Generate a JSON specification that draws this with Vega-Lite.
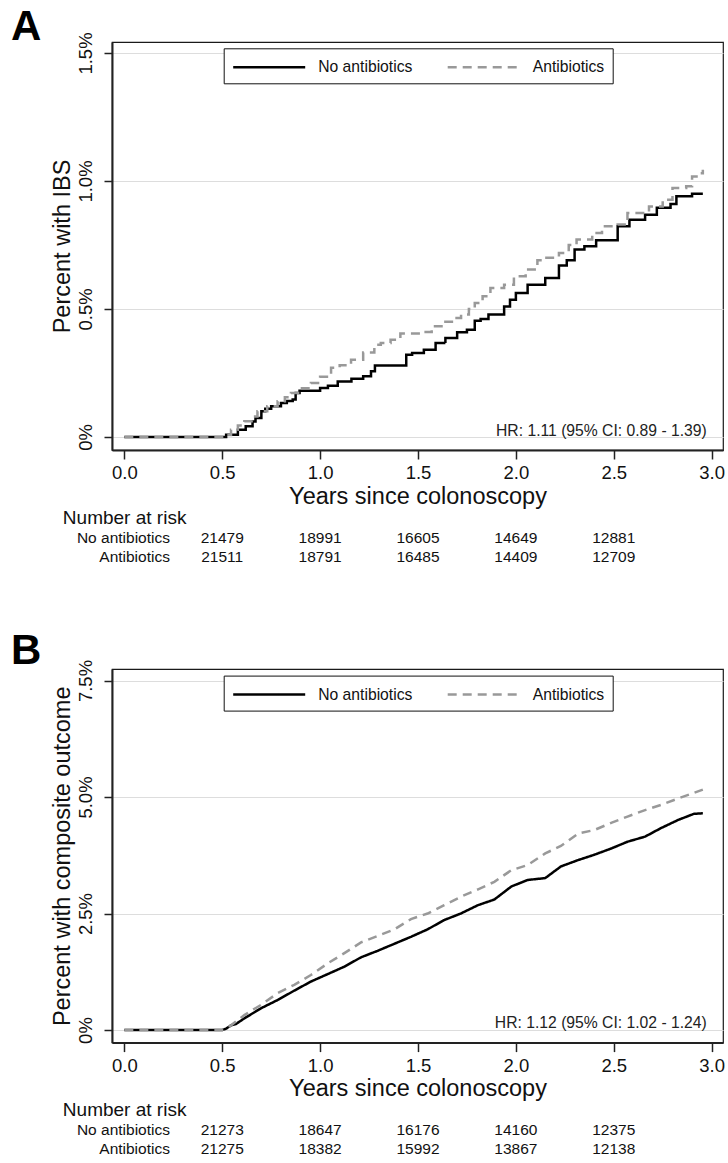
{
  "$schema": "https://vega.github.io/schema/vega-lite/v6.json",
  "padding": {"left": 10, "top": 5, "right": 0, "bottom": 0},
  "bounds": "flush",
  "spacing": 50,
  "config": {
    "font": "Liberation Sans",
    "view": {"stroke": "#1a1a1a", "strokeWidth": 1.2},
    "axis": {"labelColor": "#111111", "titleColor": "#111111", "titleFontWeight": "normal", "domainColor": "#222222", "tickColor": "#222222", "domainWidth": 2, "tickWidth": 1.5, "labelOverlap": false, "labelFlush": false}
  },
  "resolve": {"scale": {"stroke": "independent", "strokeDash": "independent"}},
  "datasets": {
    "ibs": [
      {"group": "No antibiotics", "t": 0, "p": 0},
      {"group": "No antibiotics", "t": 0.5, "p": 0},
      {"group": "No antibiotics", "t": 0.52, "p": 0.009},
      {"group": "No antibiotics", "t": 0.58, "p": 0.028},
      {"group": "No antibiotics", "t": 0.62, "p": 0.042},
      {"group": "No antibiotics", "t": 0.655, "p": 0.06},
      {"group": "No antibiotics", "t": 0.67, "p": 0.074},
      {"group": "No antibiotics", "t": 0.7, "p": 0.1},
      {"group": "No antibiotics", "t": 0.72, "p": 0.11},
      {"group": "No antibiotics", "t": 0.75, "p": 0.12},
      {"group": "No antibiotics", "t": 0.8, "p": 0.133},
      {"group": "No antibiotics", "t": 0.83, "p": 0.14},
      {"group": "No antibiotics", "t": 0.86, "p": 0.146},
      {"group": "No antibiotics", "t": 0.875, "p": 0.172},
      {"group": "No antibiotics", "t": 0.895, "p": 0.18},
      {"group": "No antibiotics", "t": 1.0, "p": 0.191},
      {"group": "No antibiotics", "t": 1.04, "p": 0.2},
      {"group": "No antibiotics", "t": 1.09, "p": 0.217},
      {"group": "No antibiotics", "t": 1.16, "p": 0.227},
      {"group": "No antibiotics", "t": 1.22, "p": 0.237},
      {"group": "No antibiotics", "t": 1.26, "p": 0.257},
      {"group": "No antibiotics", "t": 1.28, "p": 0.279},
      {"group": "No antibiotics", "t": 1.44, "p": 0.321},
      {"group": "No antibiotics", "t": 1.47, "p": 0.328},
      {"group": "No antibiotics", "t": 1.53, "p": 0.341},
      {"group": "No antibiotics", "t": 1.59, "p": 0.367},
      {"group": "No antibiotics", "t": 1.64, "p": 0.387},
      {"group": "No antibiotics", "t": 1.7, "p": 0.409},
      {"group": "No antibiotics", "t": 1.75, "p": 0.419},
      {"group": "No antibiotics", "t": 1.79, "p": 0.454},
      {"group": "No antibiotics", "t": 1.82, "p": 0.461},
      {"group": "No antibiotics", "t": 1.86, "p": 0.478},
      {"group": "No antibiotics", "t": 1.94, "p": 0.51},
      {"group": "No antibiotics", "t": 1.97, "p": 0.536},
      {"group": "No antibiotics", "t": 2.0, "p": 0.562},
      {"group": "No antibiotics", "t": 2.06, "p": 0.595},
      {"group": "No antibiotics", "t": 2.15, "p": 0.621},
      {"group": "No antibiotics", "t": 2.22, "p": 0.67},
      {"group": "No antibiotics", "t": 2.26, "p": 0.69},
      {"group": "No antibiotics", "t": 2.3, "p": 0.732},
      {"group": "No antibiotics", "t": 2.35, "p": 0.745},
      {"group": "No antibiotics", "t": 2.41, "p": 0.768},
      {"group": "No antibiotics", "t": 2.52, "p": 0.823},
      {"group": "No antibiotics", "t": 2.58, "p": 0.849},
      {"group": "No antibiotics", "t": 2.66, "p": 0.868},
      {"group": "No antibiotics", "t": 2.72, "p": 0.895},
      {"group": "No antibiotics", "t": 2.79, "p": 0.91},
      {"group": "No antibiotics", "t": 2.82, "p": 0.94},
      {"group": "No antibiotics", "t": 2.9, "p": 0.95},
      {"group": "No antibiotics", "t": 2.955, "p": 0.95},
      {"group": "Antibiotics", "t": 0, "p": 0},
      {"group": "Antibiotics", "t": 0.5, "p": 0},
      {"group": "Antibiotics", "t": 0.52, "p": 0.008},
      {"group": "Antibiotics", "t": 0.545, "p": 0.028},
      {"group": "Antibiotics", "t": 0.58, "p": 0.045},
      {"group": "Antibiotics", "t": 0.613, "p": 0.061},
      {"group": "Antibiotics", "t": 0.65, "p": 0.08},
      {"group": "Antibiotics", "t": 0.68, "p": 0.1},
      {"group": "Antibiotics", "t": 0.73, "p": 0.12},
      {"group": "Antibiotics", "t": 0.783, "p": 0.139},
      {"group": "Antibiotics", "t": 0.82, "p": 0.155},
      {"group": "Antibiotics", "t": 0.851, "p": 0.172},
      {"group": "Antibiotics", "t": 0.9, "p": 0.19},
      {"group": "Antibiotics", "t": 0.953, "p": 0.211},
      {"group": "Antibiotics", "t": 1.0, "p": 0.235},
      {"group": "Antibiotics", "t": 1.056, "p": 0.27},
      {"group": "Antibiotics", "t": 1.1, "p": 0.28},
      {"group": "Antibiotics", "t": 1.158, "p": 0.302},
      {"group": "Antibiotics", "t": 1.22, "p": 0.33},
      {"group": "Antibiotics", "t": 1.277, "p": 0.36},
      {"group": "Antibiotics", "t": 1.31, "p": 0.367},
      {"group": "Antibiotics", "t": 1.36, "p": 0.38},
      {"group": "Antibiotics", "t": 1.41, "p": 0.404},
      {"group": "Antibiotics", "t": 1.52, "p": 0.41},
      {"group": "Antibiotics", "t": 1.57, "p": 0.432},
      {"group": "Antibiotics", "t": 1.63, "p": 0.45},
      {"group": "Antibiotics", "t": 1.68, "p": 0.465},
      {"group": "Antibiotics", "t": 1.72, "p": 0.478},
      {"group": "Antibiotics", "t": 1.76, "p": 0.5},
      {"group": "Antibiotics", "t": 1.79, "p": 0.523},
      {"group": "Antibiotics", "t": 1.83, "p": 0.55},
      {"group": "Antibiotics", "t": 1.87, "p": 0.582},
      {"group": "Antibiotics", "t": 1.94, "p": 0.595},
      {"group": "Antibiotics", "t": 1.99, "p": 0.628},
      {"group": "Antibiotics", "t": 2.05, "p": 0.654},
      {"group": "Antibiotics", "t": 2.11, "p": 0.69},
      {"group": "Antibiotics", "t": 2.14, "p": 0.7},
      {"group": "Antibiotics", "t": 2.22, "p": 0.719},
      {"group": "Antibiotics", "t": 2.27, "p": 0.75},
      {"group": "Antibiotics", "t": 2.31, "p": 0.771},
      {"group": "Antibiotics", "t": 2.39, "p": 0.797},
      {"group": "Antibiotics", "t": 2.44, "p": 0.823},
      {"group": "Antibiotics", "t": 2.52, "p": 0.83},
      {"group": "Antibiotics", "t": 2.57, "p": 0.875},
      {"group": "Antibiotics", "t": 2.68, "p": 0.9},
      {"group": "Antibiotics", "t": 2.75, "p": 0.927},
      {"group": "Antibiotics", "t": 2.8, "p": 0.973},
      {"group": "Antibiotics", "t": 2.87, "p": 0.979},
      {"group": "Antibiotics", "t": 2.9, "p": 1.018},
      {"group": "Antibiotics", "t": 2.93, "p": 1.03},
      {"group": "Antibiotics", "t": 2.955, "p": 1.044}
    ],
    "comp": [
      {"group": "No antibiotics", "t": 0, "p": 0},
      {"group": "No antibiotics", "t": 0.5, "p": 0},
      {"group": "No antibiotics", "t": 0.52, "p": 0.03},
      {"group": "No antibiotics", "t": 0.545, "p": 0.1},
      {"group": "No antibiotics", "t": 0.57, "p": 0.129},
      {"group": "No antibiotics", "t": 0.613, "p": 0.25},
      {"group": "No antibiotics", "t": 0.698, "p": 0.466},
      {"group": "No antibiotics", "t": 0.783, "p": 0.644},
      {"group": "No antibiotics", "t": 0.868, "p": 0.845},
      {"group": "No antibiotics", "t": 0.953, "p": 1.04},
      {"group": "No antibiotics", "t": 1.039, "p": 1.2},
      {"group": "No antibiotics", "t": 1.124, "p": 1.36},
      {"group": "No antibiotics", "t": 1.209, "p": 1.56},
      {"group": "No antibiotics", "t": 1.294, "p": 1.7},
      {"group": "No antibiotics", "t": 1.379, "p": 1.85},
      {"group": "No antibiotics", "t": 1.464, "p": 2.0},
      {"group": "No antibiotics", "t": 1.549, "p": 2.16},
      {"group": "No antibiotics", "t": 1.634, "p": 2.36},
      {"group": "No antibiotics", "t": 1.719, "p": 2.5},
      {"group": "No antibiotics", "t": 1.807, "p": 2.68},
      {"group": "No antibiotics", "t": 1.89, "p": 2.8},
      {"group": "No antibiotics", "t": 1.977, "p": 3.08},
      {"group": "No antibiotics", "t": 2.06, "p": 3.22},
      {"group": "No antibiotics", "t": 2.15, "p": 3.26},
      {"group": "No antibiotics", "t": 2.23, "p": 3.51},
      {"group": "No antibiotics", "t": 2.32, "p": 3.65},
      {"group": "No antibiotics", "t": 2.4, "p": 3.76},
      {"group": "No antibiotics", "t": 2.49, "p": 3.9},
      {"group": "No antibiotics", "t": 2.57, "p": 4.04},
      {"group": "No antibiotics", "t": 2.66, "p": 4.15},
      {"group": "No antibiotics", "t": 2.74, "p": 4.33},
      {"group": "No antibiotics", "t": 2.83, "p": 4.51},
      {"group": "No antibiotics", "t": 2.91, "p": 4.64},
      {"group": "No antibiotics", "t": 2.955, "p": 4.65},
      {"group": "Antibiotics", "t": 0, "p": 0},
      {"group": "Antibiotics", "t": 0.5, "p": 0},
      {"group": "Antibiotics", "t": 0.545, "p": 0.1},
      {"group": "Antibiotics", "t": 0.613, "p": 0.32},
      {"group": "Antibiotics", "t": 0.698, "p": 0.54},
      {"group": "Antibiotics", "t": 0.783, "p": 0.79},
      {"group": "Antibiotics", "t": 0.868, "p": 0.97},
      {"group": "Antibiotics", "t": 0.953, "p": 1.18},
      {"group": "Antibiotics", "t": 1.039, "p": 1.43},
      {"group": "Antibiotics", "t": 1.124, "p": 1.65},
      {"group": "Antibiotics", "t": 1.209, "p": 1.88},
      {"group": "Antibiotics", "t": 1.294, "p": 2.02},
      {"group": "Antibiotics", "t": 1.379, "p": 2.16},
      {"group": "Antibiotics", "t": 1.464, "p": 2.38},
      {"group": "Antibiotics", "t": 1.549, "p": 2.5},
      {"group": "Antibiotics", "t": 1.634, "p": 2.68},
      {"group": "Antibiotics", "t": 1.719, "p": 2.86},
      {"group": "Antibiotics", "t": 1.807, "p": 3.02},
      {"group": "Antibiotics", "t": 1.89, "p": 3.18},
      {"group": "Antibiotics", "t": 1.977, "p": 3.43},
      {"group": "Antibiotics", "t": 2.06, "p": 3.54},
      {"group": "Antibiotics", "t": 2.15, "p": 3.79},
      {"group": "Antibiotics", "t": 2.23, "p": 3.95},
      {"group": "Antibiotics", "t": 2.32, "p": 4.22},
      {"group": "Antibiotics", "t": 2.4, "p": 4.29},
      {"group": "Antibiotics", "t": 2.49, "p": 4.45},
      {"group": "Antibiotics", "t": 2.57, "p": 4.58},
      {"group": "Antibiotics", "t": 2.66, "p": 4.72},
      {"group": "Antibiotics", "t": 2.74, "p": 4.83},
      {"group": "Antibiotics", "t": 2.83, "p": 4.97},
      {"group": "Antibiotics", "t": 2.91, "p": 5.09},
      {"group": "Antibiotics", "t": 2.955, "p": 5.16}
    ],
    "riskA": [
      {"row": "No antibiotics", "t": 0.5, "n": 21479},
      {"row": "No antibiotics", "t": 1.0, "n": 18991},
      {"row": "No antibiotics", "t": 1.5, "n": 16605},
      {"row": "No antibiotics", "t": 2.0, "n": 14649},
      {"row": "No antibiotics", "t": 2.5, "n": 12881},
      {"row": "Antibiotics", "t": 0.5, "n": 21511},
      {"row": "Antibiotics", "t": 1.0, "n": 18791},
      {"row": "Antibiotics", "t": 1.5, "n": 16485},
      {"row": "Antibiotics", "t": 2.0, "n": 14409},
      {"row": "Antibiotics", "t": 2.5, "n": 12709}
    ],
    "riskB": [
      {"row": "No antibiotics", "t": 0.5, "n": 21273},
      {"row": "No antibiotics", "t": 1.0, "n": 18647},
      {"row": "No antibiotics", "t": 1.5, "n": 16176},
      {"row": "No antibiotics", "t": 2.0, "n": 14160},
      {"row": "No antibiotics", "t": 2.5, "n": 12375},
      {"row": "Antibiotics", "t": 0.5, "n": 21275},
      {"row": "Antibiotics", "t": 1.0, "n": 18382},
      {"row": "Antibiotics", "t": 1.5, "n": 15992},
      {"row": "Antibiotics", "t": 2.0, "n": 13867},
      {"row": "Antibiotics", "t": 2.5, "n": 12138}
    ]
  },
  "vconcat": [
    {
      "width": 611,
      "height": 408,
      "title": {"text": "A", "anchor": "start", "frame": "group", "fontSize": 42, "fontWeight": "bold", "baseline": "alphabetic", "offset": -50, "dx": -101, "color": "#000000"},
      "layer": [
        {
          "data": {"name": "ibs"},
          "mark": {"type": "line", "interpolate": "step-after", "strokeWidth": 2.5},
          "encoding": {
            "x": {"field": "t", "type": "quantitative", "scale": {"domain": [-0.063, 3.058], "nice": false, "zero": false},
              "axis": {"title": "Years since colonoscopy", "values": [0, 0.5, 1, 1.5, 2, 2.5, 3], "format": ".1f", "labelFontSize": 18.5, "titleFontSize": 23.5, "tickSize": 9, "labelPadding": 4.5, "titlePadding": 2, "grid": false}},
            "y": {"field": "p", "type": "quantitative", "scale": {"domain": [-0.051, 1.543], "nice": false, "zero": false},
              "axis": {"title": "Percent with IBS", "values": [0, 0.5, 1, 1.5], "labelExpr": "datum.value == 0 ? '0%' : format(datum.value, '.1f') + '%'", "labelAngle": 270, "labelAlign": "center", "labelBaseline": "bottom", "labelFontSize": 18.5, "titleFontSize": 23.5, "tickSize": 8, "labelPadding": 8.5, "titlePadding": 2, "grid": true, "gridColor": "#dddddd", "gridWidth": 1.2}},
            "stroke": {"field": "group", "type": "nominal", "scale": {"domain": ["No antibiotics", "Antibiotics"], "range": ["#000000", "#999999"]},
              "legend": {"title": null, "orient": "none", "legendX": 111.7, "legendY": 6.3, "direction": "horizontal", "columns": 2, "symbolType": "M-1,0L7,0", "symbolSize": 324, "symbolStrokeWidth": 2.5, "labelFontSize": 15.7, "labelOffset": 65.5, "columnPadding": 29.5, "padding": 8, "strokeColor": "#111111", "fillColor": "#ffffff", "labelColor": "#111111"}},
            "strokeDash": {"field": "group", "type": "nominal", "scale": {"domain": ["No antibiotics", "Antibiotics"], "range": [[1, 0], [9, 6]]},
              "legend": {"title": null, "orient": "none", "legendX": 111.7, "legendY": 6.3, "direction": "horizontal", "columns": 2, "symbolType": "M-1,0L7,0", "symbolSize": 324, "symbolStrokeWidth": 2.5, "labelFontSize": 15.7, "labelOffset": 65.5, "columnPadding": 29.5, "padding": 8, "strokeColor": "#111111", "fillColor": "#ffffff", "labelColor": "#111111"}}
          }
        },
        {
          "data": {"values": [{"label": "HR: 1.11 (95% CI: 0.89 - 1.39)"}]},
          "mark": {"type": "text", "align": "right", "baseline": "middle", "fontSize": 15.7, "color": "#222222"},
          "encoding": {"x": {"datum": 2.975}, "y": {"datum": 0.025}, "text": {"field": "label"}}
        }
      ]
    },
    {
      "width": 611,
      "height": 118.7,
      "view": {"stroke": null},
      "layer": [
        {
          "data": {"values": [{"row": "Number at risk"}]},
          "mark": {"type": "text", "align": "left", "baseline": "middle", "fontSize": 19, "color": "#111111"},
          "encoding": {
            "x": {"datum": -0.314, "scale": {"domain": [-0.063, 3.058], "nice": false, "zero": false}, "axis": null},
            "y": {"field": "row", "type": "nominal", "scale": {"type": "point", "padding": 0, "domain": ["Number at risk", "No antibiotics", "Antibiotics"], "range": [18, 57]}, "axis": null},
            "text": {"field": "row"}
          }
        },
        {
          "data": {"values": [{"row": "No antibiotics"}, {"row": "Antibiotics"}]},
          "mark": {"type": "text", "align": "right", "baseline": "middle", "fontSize": 15.5, "color": "#111111"},
          "encoding": {"x": {"datum": 0.233}, "y": {"field": "row", "type": "nominal"}, "text": {"field": "row"}}
        },
        {
          "data": {"name": "riskA"},
          "mark": {"type": "text", "align": "center", "baseline": "middle", "fontSize": 15.5, "color": "#111111"},
          "encoding": {"x": {"field": "t", "type": "quantitative"}, "y": {"field": "row", "type": "nominal"}, "text": {"field": "n", "type": "quantitative", "format": "d"}}
        }
      ]
    },
    {
      "width": 611,
      "height": 373.6,
      "title": {"text": "B", "anchor": "start", "frame": "group", "fontSize": 42, "fontWeight": "bold", "baseline": "alphabetic", "offset": -47, "dx": -101, "color": "#000000"},
      "layer": [
        {
          "data": {"name": "comp"},
          "mark": {"type": "line", "interpolate": "linear", "strokeWidth": 2.5},
          "encoding": {
            "x": {"field": "t", "type": "quantitative", "scale": {"domain": [-0.063, 3.058], "nice": false, "zero": false},
              "axis": {"title": "Years since colonoscopy", "values": [0, 0.5, 1, 1.5, 2, 2.5, 3], "format": ".1f", "labelFontSize": 18.5, "titleFontSize": 23.5, "tickSize": 9, "labelPadding": 4.5, "titlePadding": 2, "grid": false}},
            "y": {"field": "p", "type": "quantitative", "scale": {"domain": [-0.27, 7.747], "nice": false, "zero": false},
              "axis": {"title": "Percent with composite outcome", "values": [0, 2.5, 5, 7.5], "labelExpr": "datum.value == 0 ? '0%' : format(datum.value, '.1f') + '%'", "labelAngle": 270, "labelAlign": "center", "labelBaseline": "bottom", "labelFontSize": 18.5, "titleFontSize": 23.5, "tickSize": 8, "labelPadding": 8.5, "titlePadding": 2, "grid": true, "gridColor": "#dddddd", "gridWidth": 1.2}},
            "stroke": {"field": "group", "type": "nominal", "scale": {"domain": ["No antibiotics", "Antibiotics"], "range": ["#000000", "#999999"]},
              "legend": {"title": null, "orient": "none", "legendX": 111.7, "legendY": 6.6, "direction": "horizontal", "columns": 2, "symbolType": "M-1,0L7,0", "symbolSize": 324, "symbolStrokeWidth": 2.5, "labelFontSize": 15.7, "labelOffset": 65.5, "columnPadding": 29.5, "padding": 8, "strokeColor": "#111111", "fillColor": "#ffffff", "labelColor": "#111111"}},
            "strokeDash": {"field": "group", "type": "nominal", "scale": {"domain": ["No antibiotics", "Antibiotics"], "range": [[1, 0], [9, 6]]},
              "legend": {"title": null, "orient": "none", "legendX": 111.7, "legendY": 6.6, "direction": "horizontal", "columns": 2, "symbolType": "M-1,0L7,0", "symbolSize": 324, "symbolStrokeWidth": 2.5, "labelFontSize": 15.7, "labelOffset": 65.5, "columnPadding": 29.5, "padding": 8, "strokeColor": "#111111", "fillColor": "#ffffff", "labelColor": "#111111"}}
          }
        },
        {
          "data": {"values": [{"label": "HR: 1.12 (95% CI: 1.02 - 1.24)"}]},
          "mark": {"type": "text", "align": "right", "baseline": "middle", "fontSize": 15.7, "color": "#222222"},
          "encoding": {"x": {"datum": 2.975}, "y": {"datum": 0.144}, "text": {"field": "label"}}
        }
      ]
    },
    {
      "width": 611,
      "height": 65,
      "view": {"stroke": null},
      "layer": [
        {
          "data": {"values": [{"row": "Number at risk"}]},
          "mark": {"type": "text", "align": "left", "baseline": "middle", "fontSize": 19, "color": "#111111"},
          "encoding": {
            "x": {"datum": -0.314, "scale": {"domain": [-0.063, 3.058], "nice": false, "zero": false}, "axis": null},
            "y": {"field": "row", "type": "nominal", "scale": {"type": "point", "padding": 0, "domain": ["Number at risk", "No antibiotics", "Antibiotics"], "range": [17, 56]}, "axis": null},
            "text": {"field": "row"}
          }
        },
        {
          "data": {"values": [{"row": "No antibiotics"}, {"row": "Antibiotics"}]},
          "mark": {"type": "text", "align": "right", "baseline": "middle", "fontSize": 15.5, "color": "#111111"},
          "encoding": {"x": {"datum": 0.233}, "y": {"field": "row", "type": "nominal"}, "text": {"field": "row"}}
        },
        {
          "data": {"name": "riskB"},
          "mark": {"type": "text", "align": "center", "baseline": "middle", "fontSize": 15.5, "color": "#111111"},
          "encoding": {"x": {"field": "t", "type": "quantitative"}, "y": {"field": "row", "type": "nominal"}, "text": {"field": "n", "type": "quantitative", "format": "d"}}
        }
      ]
    }
  ]
}
